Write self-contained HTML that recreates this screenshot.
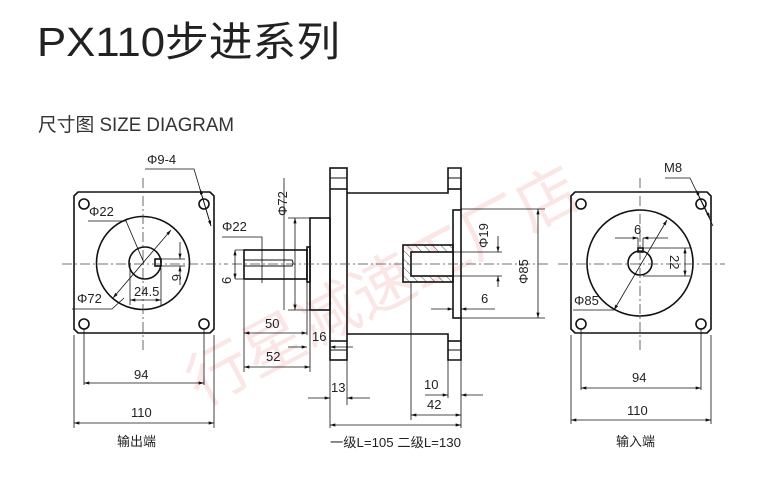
<!DOCTYPE html>
<html><head><meta charset="utf-8"><style>
html,body{margin:0;padding:0;background:#fff;}
svg{display:block;}
text{font-family:"Liberation Sans","Noto Sans CJK SC",sans-serif;fill:#222;}
</style></head><body>
<svg width="773" height="481" viewBox="0 0 773 481" xmlns="http://www.w3.org/2000/svg">
<defs>
<marker id="a" viewBox="0 0 10 6" refX="10" refY="3" markerWidth="8" markerHeight="4" orient="auto-start-reverse"><path d="M0,0L10,3L0,6z" fill="#111"/></marker>
<pattern id="h" width="6" height="6" patternUnits="userSpaceOnUse" patternTransform="rotate(-45)"><line x1="0" y1="0" x2="0" y2="6" stroke="#333" stroke-width="0.8"/></pattern>
</defs>
<g font-size="62" transform="rotate(-28 390 250)">
<text x="150" y="300" font-family="Noto Sans CJK SC,sans-serif" style="fill:#fbe6e6">行星减速工厂店</text>
</g>
<text x="37" y="56" font-size="41" textLength="303" lengthAdjust="spacingAndGlyphs" style="fill:#222">PX110步进系列</text>
<text x="38" y="131" font-size="19" textLength="196" lengthAdjust="spacingAndGlyphs" style="fill:#333">尺寸图 SIZE DIAGRAM</text>

<g stroke="#111" fill="none" stroke-width="1.6">
<path d="M78,192H210L214,196V329L210,333H78L74,329V196Z"/>
<circle cx="143" cy="263" r="46.5"/>
<circle cx="145" cy="263" r="16"/>
<rect x="155" y="259" width="6" height="7"/>
<circle cx="84" cy="204" r="5"/><circle cx="204" cy="204" r="5"/>
<circle cx="84" cy="324" r="5"/><circle cx="204" cy="324" r="5"/>
<path d="M575,192H707L711,196V329L707,333H575L571,329V196Z"/>
<circle cx="640" cy="263" r="53"/>
<circle cx="640" cy="263" r="12"/>
<rect x="638" y="248" width="5" height="4"/>
<circle cx="581" cy="204" r="5"/><circle cx="701" cy="204" r="5"/>
<circle cx="581" cy="324" r="5"/><circle cx="701" cy="324" r="5"/>
<rect x="330" y="168" width="17" height="192"/>
<line x1="330" y1="178" x2="347" y2="178" stroke-width="1"/><line x1="330" y1="189" x2="347" y2="189"/>
<line x1="330" y1="341" x2="347" y2="341"/><line x1="330" y1="350" x2="347" y2="350" stroke-width="1"/>
<path d="M347,193H448V168H461V210M461,318V360H448V334H347"/>
<line x1="448" y1="178" x2="461" y2="178" stroke-width="1"/><line x1="448" y1="189" x2="461" y2="189"/>
<line x1="448" y1="341" x2="461" y2="341"/><line x1="448" y1="350" x2="461" y2="350" stroke-width="1"/>
<rect x="453" y="210" width="8" height="108"/>
<rect x="403" y="245" width="50" height="37" fill="url(#h)"/>
<rect x="411" y="252" width="42" height="24" fill="#fff"/>
<rect x="310" y="218" width="20" height="92"/>
<rect x="307" y="247" width="3" height="35"/>
<rect x="244" y="250" width="63" height="29"/>
<path d="M244,260H292Q294,263 292,266H244" stroke-width="1"/>
</g>

<g stroke="#444" stroke-width="0.8" stroke-dasharray="10,3,2,3" fill="none">
<line x1="62" y1="264" x2="228" y2="264"/><line x1="143" y1="178" x2="143" y2="350"/>
<line x1="232" y1="264" x2="548" y2="264"/>
<line x1="558" y1="264" x2="725" y2="264"/><line x1="640" y1="178" x2="640" y2="350"/>
</g>

<g stroke="#111" stroke-width="0.8" fill="none">
<line x1="84" y1="329" x2="84" y2="385"/><line x1="204" y1="329" x2="204" y2="385"/>
<line x1="84" y1="383" x2="204" y2="383" marker-start="url(#a)" marker-end="url(#a)"/>
<line x1="74" y1="335" x2="74" y2="428"/><line x1="214" y1="335" x2="214" y2="428"/>
<line x1="74" y1="423" x2="214" y2="423" marker-start="url(#a)" marker-end="url(#a)"/>
<polyline points="145,169 194,169 211,226"/><line x1="200" y1="189" x2="211" y2="226" marker-start="url(#a)" marker-end="url(#a)"/>
<polyline points="88,221 126,221 144,263"/>
<line x1="113" y1="298" x2="171" y2="230" marker-start="url(#a)" marker-end="url(#a)"/>
<polyline points="72,309 112,309 124,298"/>
<line x1="130" y1="263" x2="130" y2="305"/><line x1="161" y1="268" x2="161" y2="305"/>
<line x1="130" y1="300" x2="161" y2="300" marker-start="url(#a)" marker-end="url(#a)"/>
<line x1="161" y1="259" x2="185" y2="259"/><line x1="161" y1="266" x2="185" y2="266"/>
<line x1="180" y1="242" x2="180" y2="259" marker-end="url(#a)"/><line x1="180" y1="285" x2="180" y2="266" marker-end="url(#a)"/>
<line x1="581" y1="329" x2="581" y2="390"/><line x1="701" y1="329" x2="701" y2="390"/>
<line x1="581" y1="388" x2="701" y2="388" marker-start="url(#a)" marker-end="url(#a)"/>
<line x1="571" y1="335" x2="571" y2="424"/><line x1="711" y1="335" x2="711" y2="424"/>
<line x1="571" y1="420" x2="711" y2="420" marker-start="url(#a)" marker-end="url(#a)"/>
<polyline points="665,178 690,178 713,226"/><line x1="696" y1="190" x2="710" y2="218" marker-start="url(#a)" marker-end="url(#a)"/>
<polyline points="573,310 614,310"/>
<line x1="614" y1="310" x2="667" y2="220" marker-start="url(#a)" marker-end="url(#a)"/>
<line x1="638" y1="238" x2="638" y2="250"/><line x1="643" y1="238" x2="643" y2="250"/>
<line x1="615" y1="238" x2="638" y2="238" marker-end="url(#a)"/><line x1="668" y1="238" x2="643" y2="238" marker-end="url(#a)"/>
<line x1="643" y1="248" x2="690" y2="248"/><line x1="643" y1="276" x2="690" y2="276"/>
<line x1="685" y1="248" x2="685" y2="276" marker-start="url(#a)" marker-end="url(#a)"/>
<line x1="284" y1="178" x2="284" y2="310"/>
<line x1="288" y1="218" x2="310" y2="218"/><line x1="288" y1="310" x2="310" y2="310"/>
<line x1="295" y1="218" x2="295" y2="310" marker-start="url(#a)" marker-end="url(#a)"/>
<polyline points="222,237 262,237 262,283"/>
<line x1="235" y1="250" x2="265" y2="250"/><line x1="235" y1="279" x2="265" y2="279"/>
<line x1="235" y1="250" x2="235" y2="279" marker-start="url(#a)" marker-end="url(#a)"/>
<line x1="244" y1="280" x2="244" y2="372"/><line x1="307" y1="282" x2="307" y2="335"/>
<line x1="310" y1="310" x2="310" y2="372"/>
<line x1="244" y1="333" x2="307" y2="333" marker-start="url(#a)" marker-end="url(#a)"/>
<line x1="288" y1="347" x2="307" y2="347" marker-end="url(#a)"/><line x1="353" y1="347" x2="330" y2="347" marker-end="url(#a)"/>
<line x1="244" y1="367" x2="310" y2="367" marker-start="url(#a)" marker-end="url(#a)"/>
<line x1="330" y1="360" x2="330" y2="428"/><line x1="347" y1="360" x2="347" y2="405"/>
<line x1="308" y1="398" x2="330" y2="398" marker-end="url(#a)"/><line x1="370" y1="398" x2="347" y2="398" marker-end="url(#a)"/>
<line x1="411" y1="282" x2="411" y2="420"/><line x1="461" y1="360" x2="461" y2="428"/><line x1="448" y1="360" x2="448" y2="398"/>
<line x1="425" y1="395" x2="448" y2="395" marker-end="url(#a)"/><line x1="483" y1="395" x2="461" y2="395" marker-end="url(#a)"/>
<line x1="411" y1="415" x2="461" y2="415" marker-start="url(#a)" marker-end="url(#a)"/>
<line x1="330" y1="425" x2="461" y2="425" marker-start="url(#a)" marker-end="url(#a)"/>
<line x1="431" y1="309" x2="453" y2="309" marker-end="url(#a)"/><line x1="495" y1="309" x2="461" y2="309" marker-end="url(#a)"/>
<line x1="453" y1="252" x2="502" y2="252"/><line x1="453" y1="276" x2="502" y2="276"/>
<line x1="498" y1="236" x2="498" y2="252" marker-end="url(#a)"/><line x1="498" y1="287" x2="498" y2="276" marker-end="url(#a)"/>
<line x1="461" y1="209" x2="545" y2="209"/><line x1="461" y1="318" x2="545" y2="318"/>
<line x1="538" y1="209" x2="538" y2="318" marker-start="url(#a)" marker-end="url(#a)"/>
</g>

<g font-size="13" style="fill:#222">
<text x="147" y="164">Φ9-4</text>
<text x="89" y="216">Φ22</text>
<text x="77" y="303">Φ72</text>
<text x="134" y="296">24.5</text>
<text x="172" y="274" transform="rotate(90 172 274)">6</text>
<text x="134" y="379">94</text>
<text x="131" y="417">110</text>
<text x="117" y="446">输出端</text>
<text x="664" y="172">M8</text>
<text x="634" y="234">6</text>
<text x="670" y="255" transform="rotate(90 670 255)">22</text>
<text x="574" y="305">Φ85</text>
<text x="632" y="382">94</text>
<text x="627" y="415">110</text>
<text x="616" y="446">输入端</text>
<text x="287" y="216" transform="rotate(-90 287 216)">Φ72</text>
<text x="222" y="231">Φ22</text>
<text x="231" y="284" transform="rotate(-90 231 284)">6</text>
<text x="265" y="328">50</text>
<text x="312" y="341">16</text>
<text x="266" y="361">52</text>
<text x="331" y="392">13</text>
<text x="424" y="389">10</text>
<text x="427" y="409">42</text>
<text x="488" y="248" transform="rotate(-90 488 248)">Φ19</text>
<text x="481" y="303">6</text>
<text x="528" y="284" transform="rotate(-90 528 284)">Φ85</text>
<text x="330" y="447" textLength="131" lengthAdjust="spacingAndGlyphs">一级L=105 二级L=130</text>
</g>
</svg>
</body></html>
